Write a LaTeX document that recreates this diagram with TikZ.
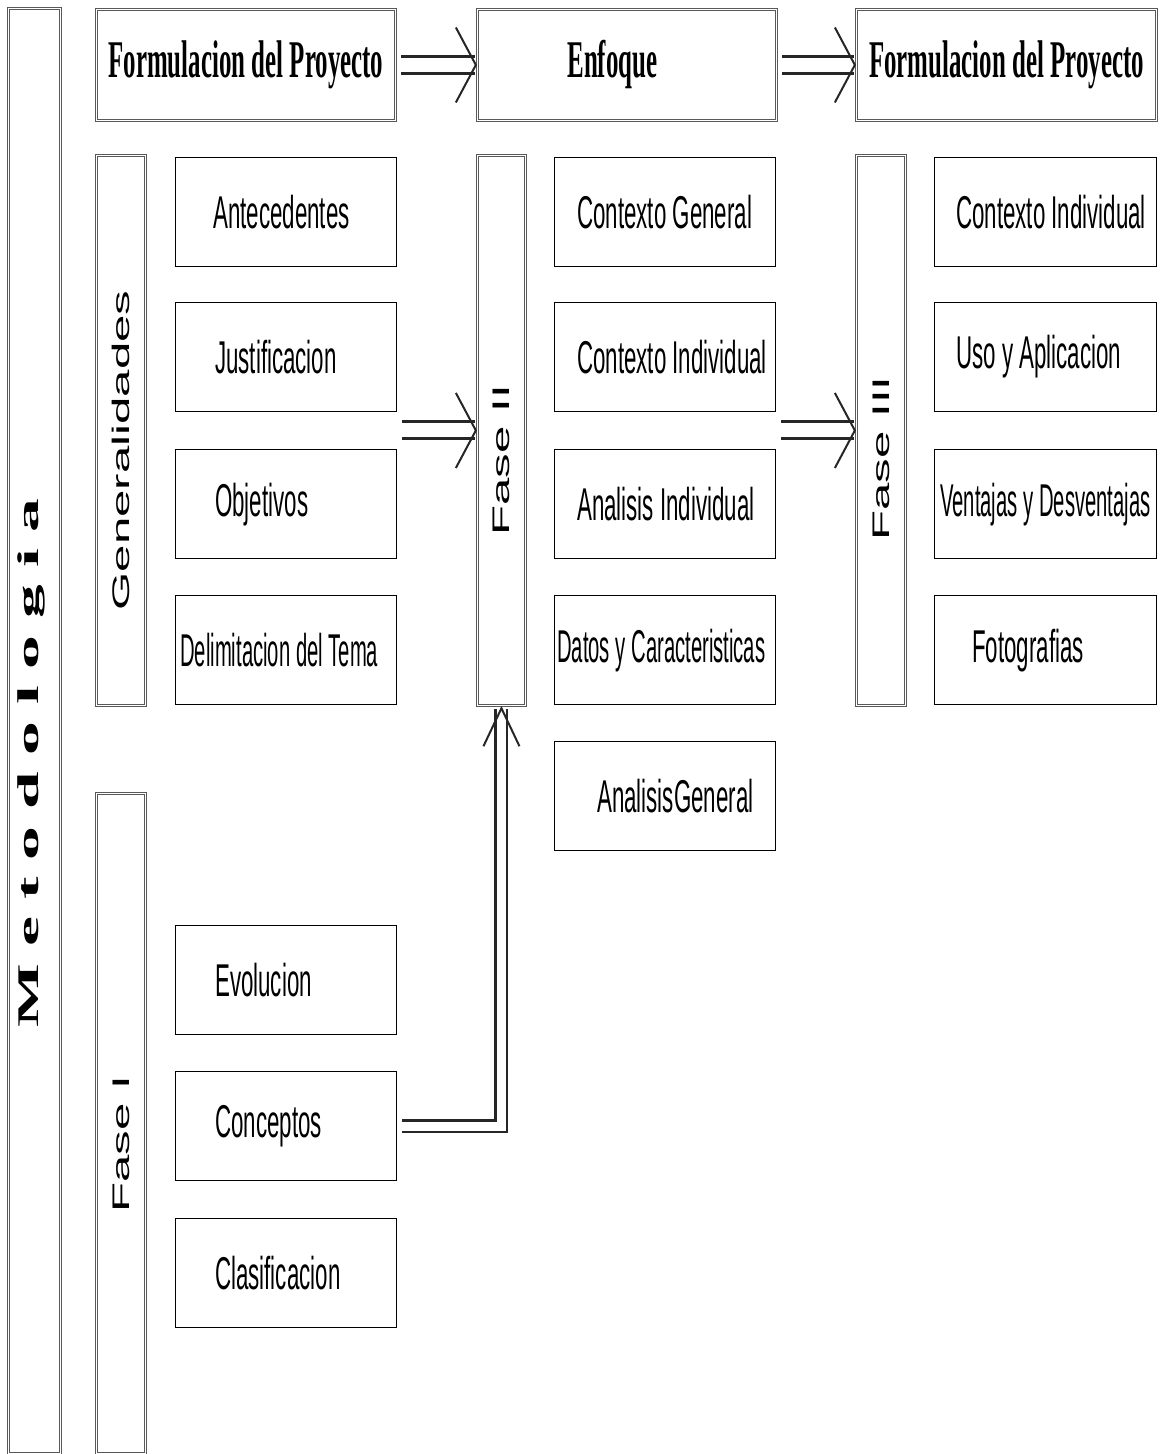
\documentclass[tikz,border=0pt]{standalone}
\usepackage{fontspec}
\usetikzlibrary{arrows.meta}
\usetikzlibrary{positioning}
\newfontfamily\itemfam[FakeStretch=0.485]{Liberation Sans}
\newfontfamily\itemnarrowfam[FakeStretch=0.44]{Liberation Sans}
\newfontfamily\titlefam[FakeStretch=0.47]{Liberation Serif}
\newfontfamily\sidefam[FakeStretch=2.05]{Liberation Sans}
\newfontfamily\metofam[FakeStretch=2.25]{Liberation Serif}
\newcommand{\itemtext}{\itemfam\fontsize{46}{50}\selectfont}
\newcommand{\itemnarrowtext}{\itemnarrowfam\fontsize{46}{50}\selectfont}
\newcommand{\titletext}{\titlefam\bfseries\fontsize{53}{56}\selectfont}
\newcommand{\sidetext}{\sidefam\fontsize{24}{26}\selectfont}
\newcommand{\metotext}{\metofam\bfseries\fontsize{30}{32}\selectfont}
\tikzset{dbox/.style={draw=black!65,double=white,double distance=1.6pt,line width=0.9pt,anchor=north west}}
\tikzset{itembox/.style={draw,line width=1.2pt,anchor=north west,minimum width=221,minimum height=109}}
\tikzset{itemlabel/.style={font=\itemtext,inner sep=0pt}}
\tikzset{longlabel/.style={font=\itemnarrowtext,inner sep=0pt}}
\tikzset{sidelabel/.style={rotate=90,font=\sidetext,inner sep=0pt}}
\tikzset{dblarrow/.style={draw=black!85,double=white,line width=3pt,double distance=14pt,shorten <=5pt,-{Straight Barb[length=20pt,width=75pt,line width=2pt]}}}
\begin{document}
\begin{tikzpicture}[x=1pt,y=-1pt]
\useasboundingbox (0,0) rectangle (1161,1454);
% columna izquierda
\node [dbox,minimum width=52,minimum height=1445] (meto) at (8,8) {};
\node [rotate=90,font=\metotext,inner sep=0pt] (metotxt) at ([xshift=-3pt,yshift=-32pt]meto.center) {M e t o d o l o g i a};
% titulos
\node [dbox,minimum width=299,minimum height=111,font=\titletext] (form) at (96,9) {Formulacion del Proyecto};
\node [dbox,minimum width=299,minimum height=111,font=\titletext,inner xsep=0pt,text width=119pt,align=left] (enf) at (477,9) {Enfoque};
\node [dbox,minimum width=300,minimum height=111,font=\titletext] (form2) at (856,9) {Formulacion del Proyecto};
% fases
\node [dbox,minimum width=49,minimum height=550] (gen) at (96,155) {};
\node [sidelabel] (gentxt) at ([yshift=-20pt]gen.center) {Generalidades};
\node [dbox,minimum width=49,minimum height=660] (fase1) at (96,793) {};
\node [sidelabel] (fase1txt) at ([yshift=-21pt]fase1.center) {Fase I};
\node [dbox,minimum width=48,minimum height=550] (fase2) at (477,155) {};
\node [sidelabel] (fase2txt) at ([yshift=-30pt]fase2.center) {Fase II};
\node [dbox,minimum width=49,minimum height=550] (fase3) at (856,155) {};
\node [sidelabel] (fase3txt) at ([yshift=-28pt]fase3.center) {Fase III};
% fase I
\node [itembox] (ante) at (175,157) {};
\node [itemlabel,right=38pt of ante.west] (antetxt) {Antecedentes};
\node [itembox] (just) at (175,302) {};
\node [itemlabel,right=40pt of just.west] (justtxt) {Justificacion};
\node [itembox] (obj) at (175,449) {};
\node [itemlabel,right=40pt of obj.west] (objtxt) {Objetivos};
\node [itembox] (delim) at (175,595) {};
\node [longlabel,right=5pt of delim.west] (delimtxt) {Delimitacion del Tema};
\node [itembox] (evol) at (175,925) {};
\node [itemlabel,right=40pt of evol.west] (evoltxt) {Evolucion};
\node [itembox] (conc) at (175,1071) {};
\node [itemlabel,right=40pt of conc.west] (conctxt) {Conceptos};
\node [itembox] (clas) at (175,1218) {};
\node [itemlabel,right=40pt of clas.west] (clastxt) {Clasificacion};
% fase II
\node [itembox] (ctxg) at (554,157) {};
\node [itemlabel,right=23pt of ctxg.west] (ctxgtxt) {Contexto General};
\node [itembox] (ctxi) at (554,302) {};
\node [itemlabel,right=23pt of ctxi.west] (ctxitxt) {Contexto Individual};
\node [itembox] (anai) at (554,449) {};
\node [itemlabel,right=23pt of anai.west] (anaitxt) {Analisis Individual};
\node [itembox] (datos) at (554,595) {};
\node [longlabel,right=3pt of datos.west] (datostxt) {Datos y Caracteristicas};
\node [itembox] (anag) at (554,741) {};
\node [itemlabel,right=43pt of anag.west] (anagtxt) {AnalisisGeneral};
% fase III
\node [itembox,minimum width=222] (ctxi2) at (934,157) {};
\node [itemlabel,right=22pt of ctxi2.west] (ctxi2txt) {Contexto Individual};
\node [itembox,minimum width=222] (uso) at (934,302) {};
\node [itemlabel,right=22pt of uso.west] (usotxt) {Uso y Aplicacion};
\node [itembox,minimum width=222] (vent) at (934,449) {};
\node [longlabel,right=6pt of vent.west] (venttxt) {Ventajas y Desventajas};
\node [itembox,minimum width=222] (foto) at (934,595) {};
\node [itemlabel,right=38pt of foto.west] (fototxt) {Fotografias};
% flechas
\draw [dblarrow] (form.east) -- (enf.west);
\draw [dblarrow] (enf.east) -- (form2.west);
\draw [dblarrow] (just.east |- fase2) -- (fase2.west);
\draw [dblarrow] (ctxi.east |- fase3) -- (fase3.west);
\draw [dblarrow,line width=2.5pt,double distance=9pt,-{Straight Barb[length=38pt,width=36pt,line width=2pt]}] (conc.east) -| (fase2.south);
\end{tikzpicture}
\end{document}
